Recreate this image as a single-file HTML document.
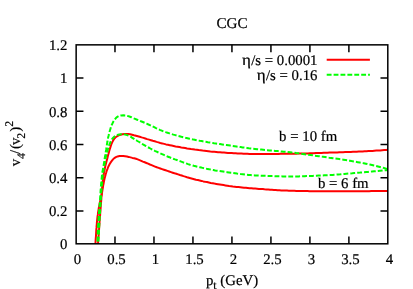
<!DOCTYPE html>
<html><head><meta charset="utf-8"><style>
html,body{margin:0;padding:0;background:#fff;}
svg{display:block;will-change:transform;text-rendering:geometricPrecision;font-family:"Liberation Serif",serif;font-size:14.8px;fill:#000;}
text{stroke:#000;stroke-width:0.2px;}
</style></head><body>
<svg width="413" height="289" viewBox="0 0 413 289">
<rect width="413" height="289" fill="#fff"/>
<defs><clipPath id="c"><rect x="76.15" y="44.85" width="311.65" height="198.95000000000002"/></clipPath></defs>
<g fill="none" stroke-width="2" clip-path="url(#c)" stroke-linejoin="round">
<polyline stroke="#ff0000" points="97.7,248.4 97.8,246.5 98.0,244.6 98.1,242.6 98.2,240.7 98.4,238.7 98.5,236.8 98.7,234.8 98.8,232.9 98.9,230.9 99.1,229.0 99.2,227.0 99.4,225.1 99.5,223.1 99.6,221.2 99.8,219.2 99.9,217.3 100.1,215.3 100.2,213.4 100.4,211.4 100.5,209.5 100.7,207.5 100.8,205.6 101.0,203.6 101.1,201.7 101.3,199.7 101.4,197.8 101.5,195.8 101.7,193.9 101.8,191.9 102.0,190.0 102.1,188.0 102.3,186.1 102.5,184.1 102.7,182.2 102.9,180.3 103.1,178.3 103.4,176.4 103.7,174.5 104.0,172.5 104.4,170.6 104.8,168.7 105.2,166.8 105.6,164.9 106.1,163.0 106.6,161.1 107.1,159.2 107.6,157.3 108.0,155.4 108.6,153.5 109.1,151.6 109.6,149.8 110.2,147.9 110.8,146.0 111.4,144.2 112.2,142.4 113.1,140.6 114.1,138.9 115.4,137.5 117.0,136.3 118.7,135.4 120.5,134.7 122.5,134.2 124.4,134.0 126.4,134.0 128.3,134.0 130.2,134.2 132.1,134.7 134.0,135.3 135.9,135.8 137.8,136.3 139.7,136.8 141.6,137.4 143.5,137.9 145.3,138.5 147.2,139.1 149.1,139.6 150.9,140.2 152.8,140.8 154.7,141.3 156.6,141.9 158.4,142.4 160.3,143.0 162.2,143.4 164.1,143.9 166.0,144.4 167.9,144.8 169.8,145.2 171.7,145.6 173.6,146.0 175.6,146.4 177.5,146.7 179.4,147.1 181.3,147.5 183.2,147.8 185.2,148.1 187.1,148.5 189.0,148.8 191.0,149.1 192.9,149.3 194.8,149.6 196.8,149.8 198.7,150.1 200.6,150.3 202.6,150.6 204.5,150.8 206.5,151.0 208.4,151.2 210.4,151.5 212.3,151.7 214.3,151.8 216.2,152.0 218.1,152.2 220.1,152.3 222.0,152.5 224.0,152.6 225.9,152.7 227.9,152.9 229.8,153.0 231.8,153.1 233.7,153.2 235.7,153.3 237.6,153.4 239.6,153.5 241.5,153.6 243.5,153.7 245.5,153.7 247.4,153.8 249.4,153.9 251.3,153.9 253.3,153.9 255.2,153.9 257.2,153.9 259.1,153.9 261.1,153.9 263.0,153.9 265.0,153.9 266.9,153.9 268.9,153.9 270.9,153.9 272.8,153.9 274.8,153.9 276.7,153.9 278.7,153.9 280.6,153.8 282.6,153.8 284.5,153.8 286.5,153.8 288.4,153.8 290.4,153.8 292.3,153.7 294.3,153.7 296.3,153.7 298.2,153.6 300.2,153.6 302.1,153.5 304.1,153.5 306.0,153.4 308.0,153.4 309.9,153.3 311.9,153.2 313.8,153.2 315.8,153.1 317.7,153.0 319.7,153.0 321.6,152.9 323.6,152.8 325.5,152.8 327.5,152.7 329.5,152.6 331.4,152.6 333.4,152.5 335.3,152.5 337.3,152.4 339.2,152.3 341.2,152.3 343.1,152.2 345.1,152.1 347.0,152.1 349.0,152.0 350.9,151.9 352.9,151.8 354.8,151.7 356.8,151.7 358.7,151.6 360.7,151.5 362.6,151.4 364.6,151.3 366.5,151.2 368.5,151.1 370.4,151.0 372.4,150.9 374.3,150.7 376.3,150.6 378.3,150.5 380.2,150.4 382.2,150.2 384.1,150.1 386.1,150.0 388.0,149.8"/>
<polyline stroke="#ff0000" points="95.1,248.4 95.2,246.6 95.4,244.7 95.5,242.8 95.6,241.0 95.7,239.1 95.9,237.2 96.0,235.4 96.1,233.5 96.2,231.6 96.3,229.8 96.5,227.9 96.6,226.0 96.8,224.2 96.9,222.3 97.1,220.4 97.3,218.6 97.5,216.7 97.8,214.9 98.0,213.0 98.3,211.2 98.6,209.3 98.9,207.5 99.3,205.6 99.6,203.8 100.0,202.0 100.4,200.1 100.8,198.3 101.2,196.5 101.6,194.7 102.0,192.8 102.3,191.0 102.6,189.1 102.9,187.3 103.2,185.4 103.6,183.6 103.9,181.7 104.3,179.9 104.7,178.1 105.2,176.3 105.6,174.5 106.2,172.6 106.7,170.8 107.4,169.1 108.0,167.4 108.8,165.7 109.7,164.0 110.7,162.4 111.8,160.9 113.0,159.4 114.3,158.1 115.9,157.1 117.6,156.4 119.5,156.0 121.3,155.9 123.2,156.0 125.1,156.2 126.9,156.5 128.7,156.9 130.5,157.4 132.4,157.9 134.2,158.3 136.0,158.8 137.7,159.4 139.5,160.1 141.2,160.8 142.9,161.6 144.7,162.3 146.4,163.0 148.1,163.7 149.9,164.5 151.6,165.2 153.3,165.9 155.0,166.6 156.8,167.3 158.6,167.9 160.3,168.5 162.1,169.1 163.9,169.7 165.6,170.3 167.4,170.9 169.2,171.5 171.0,172.1 172.7,172.7 174.5,173.3 176.3,173.8 178.1,174.4 179.9,175.0 181.7,175.5 183.5,176.1 185.2,176.6 187.0,177.2 188.8,177.7 190.6,178.2 192.4,178.7 194.2,179.2 196.0,179.7 197.9,180.1 199.7,180.5 201.5,180.9 203.3,181.4 205.2,181.8 207.0,182.1 208.8,182.5 210.7,182.9 212.5,183.2 214.4,183.6 216.2,183.9 218.0,184.2 219.9,184.5 221.7,184.8 223.6,185.1 225.4,185.4 227.3,185.7 229.1,186.0 231.0,186.2 232.8,186.5 234.7,186.7 236.6,186.9 238.4,187.1 240.3,187.3 242.1,187.5 244.0,187.7 245.9,187.8 247.7,188.0 249.6,188.2 251.5,188.3 253.3,188.5 255.2,188.6 257.1,188.7 258.9,188.9 260.8,189.0 262.7,189.1 264.5,189.3 266.4,189.4 268.3,189.5 270.1,189.7 272.0,189.8 273.9,189.9 275.7,190.0 277.6,190.2 279.5,190.3 281.3,190.4 283.2,190.5 285.1,190.5 287.0,190.6 288.8,190.7 290.7,190.7 292.6,190.8 294.4,190.8 296.3,190.9 298.2,190.9 300.0,191.0 301.9,191.0 303.8,191.1 305.7,191.1 307.5,191.1 309.4,191.2 311.3,191.2 313.1,191.2 315.0,191.3 316.9,191.3 318.8,191.3 320.6,191.3 322.5,191.3 324.4,191.3 326.2,191.3 328.1,191.3 330.0,191.3 331.9,191.3 333.7,191.3 335.6,191.3 337.5,191.3 339.3,191.3 341.2,191.3 343.1,191.3 345.0,191.3 346.8,191.3 348.7,191.3 350.6,191.3 352.4,191.3 354.3,191.3 356.2,191.3 358.1,191.2 359.9,191.2 361.8,191.2 363.7,191.2 365.5,191.2 367.4,191.2 369.3,191.2 371.2,191.1 373.0,191.1 374.9,191.1 376.8,191.1 378.6,191.1 380.5,191.0 382.4,191.0 384.3,191.0 386.1,191.0 388.0,190.9"/>
<polyline stroke="#00ff00" stroke-dasharray="4.85 2.05" points="97.1,248.4 97.2,246.4 97.3,244.3 97.4,242.2 97.5,240.2 97.6,238.1 97.7,236.0 97.7,234.0 97.8,231.9 97.9,229.8 98.0,227.7 98.1,225.7 98.2,223.6 98.3,221.5 98.5,219.5 98.6,217.4 98.8,215.3 98.9,213.3 99.1,211.2 99.3,209.2 99.5,207.1 99.6,205.0 99.8,203.0 100.0,200.9 100.1,198.8 100.2,196.8 100.4,194.7 100.5,192.6 100.6,190.6 100.8,188.5 100.9,186.4 101.1,184.4 101.3,182.3 101.5,180.2 101.7,178.2 101.9,176.1 102.1,174.0 102.4,172.0 102.8,170.0 103.2,167.9 103.5,165.9 103.9,163.8 104.2,161.8 104.5,159.7 104.8,157.7 105.2,155.6 105.5,153.6 105.8,151.6 106.2,149.5 106.5,147.5 106.8,145.4 107.1,143.4 107.5,141.3 107.8,139.3 108.2,137.2 108.7,135.2 109.1,133.2 109.7,131.2 110.3,129.2 110.9,127.2 111.6,125.3 112.5,123.4 113.4,121.5 114.5,119.8 115.9,118.1 117.4,116.8 119.2,115.8 121.3,115.4 123.3,115.3 125.4,115.5 127.4,115.9 129.4,116.5 131.3,117.2 133.2,118.1 135.1,118.9 137.1,119.7 139.0,120.5 140.9,121.3 142.8,122.0 144.7,122.8 146.6,123.6 148.5,124.5 150.4,125.3 152.3,126.2 154.2,127.2 156.0,128.1 157.9,128.9 159.8,129.8 161.7,130.6 163.6,131.4 165.6,132.1 167.5,132.7 169.5,133.4 171.4,134.0 173.4,134.6 175.4,135.1 177.4,135.7 179.4,136.2 181.4,136.8 183.5,137.3 185.5,137.8 187.5,138.2 189.5,138.7 191.6,139.1 193.6,139.6 195.6,140.0 197.6,140.4 199.7,140.8 201.7,141.1 203.7,141.5 205.8,141.8 207.8,142.2 209.9,142.5 211.9,142.8 214.0,143.2 216.0,143.5 218.1,143.8 220.1,144.1 222.2,144.4 224.2,144.7 226.3,145.0 228.3,145.3 230.4,145.6 232.4,145.9 234.5,146.2 236.5,146.5 238.6,146.8 240.6,147.1 242.7,147.4 244.7,147.6 246.8,147.9 248.8,148.2 250.9,148.4 253.0,148.7 255.0,148.9 257.1,149.2 259.1,149.4 261.2,149.6 263.3,149.8 265.3,150.0 267.4,150.2 269.4,150.4 271.5,150.6 273.6,150.8 275.6,150.9 277.7,151.1 279.8,151.3 281.8,151.5 283.9,151.7 286.0,151.9 288.0,152.1 290.1,152.3 292.1,152.6 294.2,152.8 296.2,153.1 298.3,153.3 300.4,153.6 302.4,153.9 304.5,154.2 306.5,154.5 308.6,154.8 310.6,155.0 312.7,155.3 314.7,155.6 316.8,155.9 318.8,156.2 320.9,156.5 322.9,156.8 325.0,157.1 327.0,157.4 329.1,157.7 331.1,157.9 333.2,158.2 335.2,158.5 337.3,158.8 339.3,159.1 341.4,159.4 343.4,159.7 345.5,160.0 347.5,160.3 349.6,160.7 351.6,161.1 353.6,161.4 355.7,161.8 357.7,162.2 359.8,162.6 361.8,163.0 363.8,163.3 365.9,163.7 367.9,164.2 369.9,164.6 371.9,165.0 374.0,165.5 376.0,166.0 378.0,166.5 380.0,167.0 382.0,167.5 384.0,168.0 386.0,168.6 388.0,169.2"/>
<polyline stroke="#00ff00" stroke-dasharray="4.85 2.05" points="98.1,248.4 98.2,246.5 98.3,244.5 98.4,242.5 98.5,240.5 98.6,238.5 98.7,236.5 98.8,234.5 98.9,232.5 99.0,230.5 99.1,228.5 99.2,226.6 99.3,224.6 99.4,222.6 99.5,220.6 99.6,218.6 99.7,216.6 99.9,214.6 100.0,212.6 100.1,210.7 100.3,208.7 100.4,206.7 100.5,204.7 100.7,202.7 100.8,200.7 100.9,198.7 101.0,196.7 101.2,194.7 101.3,192.8 101.4,190.8 101.6,188.8 101.7,186.8 101.9,184.8 102.0,182.8 102.2,180.8 102.4,178.9 102.6,176.9 102.8,174.9 103.1,172.9 103.4,170.9 103.7,169.0 104.0,167.0 104.4,165.1 104.7,163.1 105.1,161.1 105.4,159.2 105.8,157.2 106.2,155.3 106.7,153.3 107.3,151.4 107.8,149.5 108.4,147.6 109.0,145.7 109.7,143.8 110.5,142.0 111.4,140.2 112.5,138.5 113.8,137.1 115.4,135.9 117.3,135.0 119.2,134.5 121.2,134.2 123.1,134.2 125.1,134.6 127.1,135.1 128.9,135.8 130.6,136.7 132.3,137.8 134.0,138.9 135.7,140.0 137.4,141.0 139.2,142.0 140.9,143.0 142.6,144.1 144.3,145.1 146.0,146.1 147.7,147.1 149.5,148.0 151.2,149.0 153.0,149.9 154.8,150.8 156.6,151.6 158.4,152.5 160.2,153.3 162.0,154.1 163.9,154.9 165.7,155.7 167.5,156.5 169.4,157.2 171.2,158.0 173.1,158.7 175.0,159.4 176.8,160.0 178.7,160.7 180.6,161.4 182.5,162.1 184.3,162.8 186.2,163.4 188.1,164.1 190.0,164.7 191.9,165.2 193.8,165.8 195.7,166.3 197.7,166.8 199.6,167.2 201.5,167.6 203.5,168.1 205.4,168.5 207.4,168.9 209.4,169.3 211.3,169.6 213.3,170.0 215.2,170.4 217.2,170.7 219.2,171.0 221.2,171.3 223.1,171.6 225.1,171.9 227.1,172.2 229.0,172.5 231.0,172.8 233.0,173.0 235.0,173.3 236.9,173.6 238.9,173.8 240.9,174.1 242.9,174.3 244.9,174.6 246.8,174.8 248.8,175.0 250.8,175.1 252.8,175.3 254.8,175.4 256.8,175.5 258.8,175.6 260.7,175.7 262.7,175.8 264.7,175.8 266.7,175.9 268.7,176.0 270.7,176.1 272.7,176.1 274.7,176.2 276.7,176.2 278.7,176.3 280.7,176.3 282.7,176.4 284.6,176.4 286.6,176.4 288.6,176.4 290.6,176.4 292.6,176.4 294.6,176.4 296.6,176.4 298.6,176.4 300.6,176.3 302.6,176.3 304.6,176.2 306.6,176.1 308.6,176.1 310.5,176.0 312.5,175.9 314.5,175.8 316.5,175.7 318.5,175.6 320.5,175.5 322.5,175.4 324.5,175.3 326.5,175.2 328.5,175.1 330.4,175.0 332.4,174.9 334.4,174.7 336.4,174.6 338.4,174.4 340.4,174.3 342.4,174.1 344.3,174.0 346.3,173.8 348.3,173.6 350.3,173.4 352.3,173.3 354.3,173.1 356.3,172.9 358.2,172.7 360.2,172.6 362.2,172.4 364.2,172.2 366.2,172.0 368.2,171.9 370.2,171.7 372.1,171.5 374.1,171.3 376.1,171.1 378.1,170.9 380.1,170.7 382.1,170.5 384.0,170.3 386.0,170.2 388.0,169.9"/>
</g>
<g fill="none" stroke-width="2">
<path stroke="#ff0000" d="M326.7,59.8H369.9"/>
<path stroke="#00ff00" stroke-dasharray="4.85 2.05" d="M326.7,74.8H369.9"/>
</g>
<path d="M114.98,243.8v-7.3M114.98,44.85v7.3M153.97,243.8v-7.3M153.97,44.85v7.3M192.95,243.8v-7.3M192.95,44.85v7.3M231.94,243.8v-7.3M231.94,44.85v7.3M270.93,243.8v-7.3M270.93,44.85v7.3M309.91,243.8v-7.3M309.91,44.85v7.3M348.89,243.8v-7.3M348.89,44.85v7.3M76.15,211.03h7.3M387.8,211.03h-7.3M76.15,177.76h7.3M387.8,177.76h-7.3M76.15,144.49h7.3M387.8,144.49h-7.3M76.15,111.22h7.3M387.8,111.22h-7.3M76.15,77.95h7.3M387.8,77.95h-7.3" stroke="#000" stroke-width="1.5" fill="none"/>
<rect x="76.15" y="44.85" width="311.65" height="198.95000000000002" fill="none" stroke="#000" stroke-width="1.5"/>
<text x="232" y="28" font-size="15.1" text-anchor="middle">CGC</text>
<text x="77.5" y="263.7" text-anchor="middle">0</text><text x="116.5" y="263.7" text-anchor="middle">0.5</text><text x="155.5" y="263.7" text-anchor="middle">1</text><text x="194.5" y="263.7" text-anchor="middle">1.5</text><text x="233.4" y="263.7" text-anchor="middle">2</text><text x="272.4" y="263.7" text-anchor="middle">2.5</text><text x="311.4" y="263.7" text-anchor="middle">3</text><text x="350.4" y="263.7" text-anchor="middle">3.5</text><text x="389.4" y="263.7" text-anchor="middle">4</text>
<text x="67.4" y="249.3" text-anchor="end">0</text><text x="67.4" y="216.1" text-anchor="end">0.2</text><text x="67.4" y="182.9" text-anchor="end">0.4</text><text x="67.4" y="149.8" text-anchor="end">0.6</text><text x="67.4" y="116.6" text-anchor="end">0.8</text><text x="67.4" y="83.4" text-anchor="end">1</text><text x="67.4" y="50.2" text-anchor="end">1.2</text>
<text x="317.5" y="64.5" text-anchor="end">/s = 0.0001</text><text transform="translate(241.9,64.5) scale(1.15,1.06)">η</text>
<text x="317.5" y="79.5" text-anchor="end">/s = 0.16</text><text transform="translate(256.8,79.5) scale(1.15,1.06)">η</text>
<text x="279.1" y="141.2">b = 10 fm</text>
<text x="317.9" y="187.5">b = 6 fm</text>
<text x="232" y="285" text-anchor="middle">p<tspan dy="4" font-size="11.7">t</tspan><tspan dy="-4"> (GeV)</tspan></text>
<text transform="translate(20,143.7) rotate(-90)" text-anchor="middle">v<tspan dy="4.8" font-size="11.7">4</tspan><tspan dy="-4.8" dx="-0.8">/</tspan><tspan dx="0.8">(</tspan><tspan dx="-1">v</tspan><tspan dy="4.8" dx="-1.2" font-size="11.7">2</tspan><tspan dy="-4.8" dx="1.2">)</tspan><tspan dy="-7.5" font-size="11.7">2</tspan></text>
</svg>
</body></html>
